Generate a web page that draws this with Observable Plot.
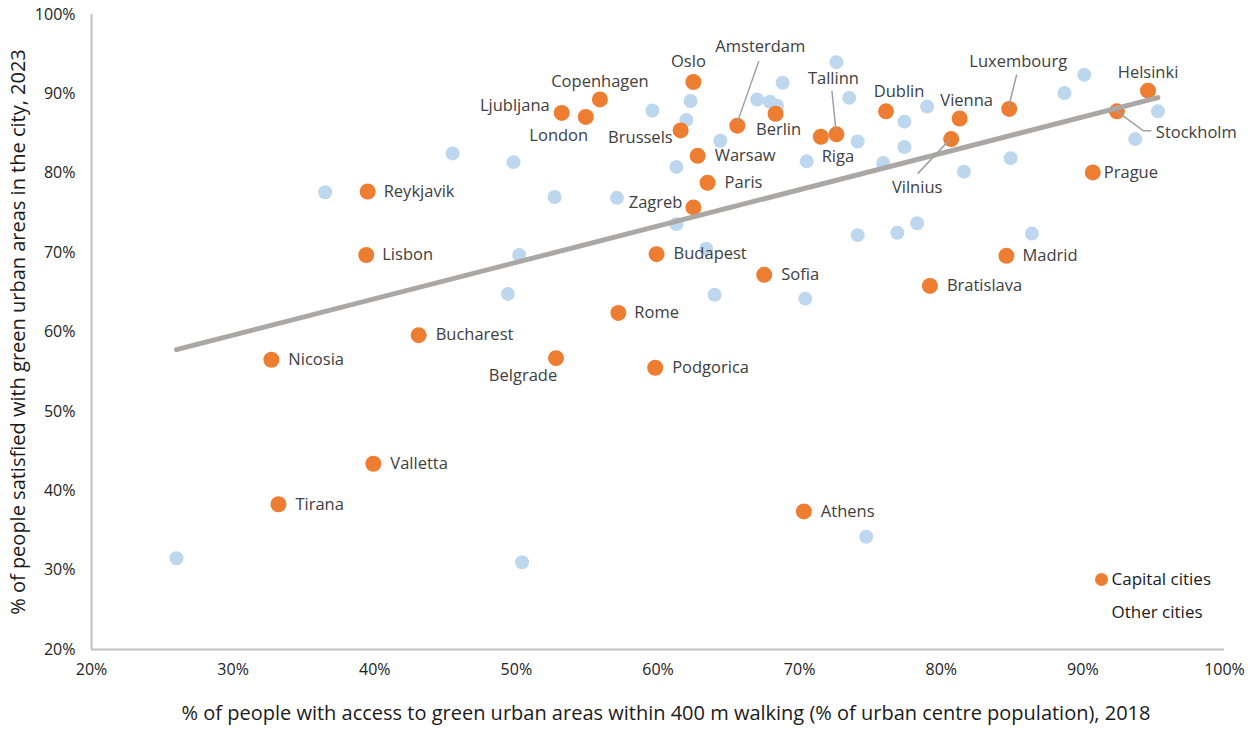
<!DOCTYPE html>
<html>
<head>
<meta charset="utf-8">
<script src="https://cdn.jsdelivr.net/npm/d3@7"></script>
<script src="https://cdn.jsdelivr.net/npm/@observablehq/plot@0.6"></script>
<style>
  html, body { margin: 0; padding: 0; background: #fff; }
  #chart svg { display: block; }
</style>
</head>
<body>
<div id="chart"></div>
<script>
// ---- Data ----
const capitalNames = ["Helsinki","Stockholm","Prague","Luxembourg","Madrid","Vienna","Vilnius","Bratislava","Dublin","Tallinn","Riga","Athens","Berlin","Sofia","Amsterdam","Paris","Warsaw","Oslo","Zagreb","Brussels","Budapest","Podgorica","Rome","Copenhagen","London","Ljubljana","Belgrade","Bucharest","Valletta","Reykjavik","Lisbon","Tirana","Nicosia"];
const capitalAccess = [94.6,92.4,90.7,84.8,84.6,81.3,80.7,79.2,76.1,72.6,71.5,70.3,68.3,67.5,65.6,63.5,62.8,62.5,62.5,61.6,59.9,59.8,57.2,55.9,54.9,53.2,52.8,43.1,39.9,39.5,39.4,33.2,32.7];
const capitalSatisfaction = [90.4,87.8,80.1,88.1,69.6,86.9,84.3,65.8,87.8,84.9,84.6,37.4,87.5,67.2,86.0,78.8,82.2,91.5,75.7,85.4,69.8,55.5,62.4,89.3,87.1,87.6,56.7,59.6,43.4,77.7,69.7,38.3,56.5];

const otherAccess = [72.6,68.8,62.3,67.0,67.9,68.4,73.5,59.6,62.0,64.4,74.1,45.5,49.8,61.3,70.5,52.7,57.1,61.3,79.0,77.4,90.1,88.7,95.3,93.7,77.4,75.9,84.9,81.6,74.1,76.9,78.3,86.4,63.4,64.0,70.4,50.2,49.4,36.5,26.0,50.4,74.7];
const otherSatisfaction = [94.0,91.4,89.1,89.3,89.0,88.5,89.5,87.9,86.7,84.1,84.0,82.5,81.4,80.8,81.5,77.0,76.9,73.6,88.4,86.5,92.4,90.1,87.8,84.3,83.3,81.3,81.9,80.2,72.2,72.5,73.7,72.4,70.5,64.7,64.2,69.7,64.8,77.6,31.5,31.0,34.2];

const xTicks = [20,30,40,50,60,70,80,90,100];
const yTicks = [20,30,40,50,60,70,80,90,100];
const xTitle = "% of people with access to green urban areas within 400 m walking (% of urban centre population), 2018";
const yTitle = "% of people satisfied with green urban areas in the city, 2023";
const legendLabels = ["Capital cities", "Other cities"];

// ---- Label placement (styling, pixel offsets from each dot) ----
const S = (dx) => ({dx, dy: 0, anchor: "start"});
const labelPlacement = {
  Helsinki: {dx: 0, dy: -18, anchor: "middle"},
  Stockholm: {dx: 39, dy: 21, anchor: "start"},
  Prague: S(11),
  Luxembourg: {dx: 9, dy: -47, anchor: "middle"},
  Madrid: S(16),
  Vienna: {dx: 7, dy: -18, anchor: "middle"},
  Vilnius: {dx: -34, dy: 49, anchor: "middle"},
  Bratislava: S(17),
  Dublin: {dx: 13, dy: -20, anchor: "middle"},
  Tallinn: {dx: -3, dy: -56, anchor: "middle"},
  Riga: {dx: 17, dy: 20, anchor: "middle"},
  Athens: S(17),
  Berlin: {dx: 3, dy: 16, anchor: "middle"},
  Sofia: S(17),
  Amsterdam: {dx: 23, dy: -79, anchor: "middle"},
  Paris: S(17),
  Warsaw: S(17),
  Oslo: {dx: -5, dy: -20, anchor: "middle"},
  Zagreb: {dx: -11, dy: -5, anchor: "end"},
  Brussels: {dx: -8, dy: 7, anchor: "end"},
  Budapest: S(17),
  Podgorica: S(17),
  Rome: S(16),
  Copenhagen: {dx: 0, dy: -18, anchor: "middle"},
  London: {dx: -27, dy: 19, anchor: "middle"},
  Ljubljana: {dx: -12, dy: -7, anchor: "end"},
  Belgrade: {dx: -33, dy: 18, anchor: "middle"},
  Bucharest: S(17),
  Valletta: S(17),
  Reykjavik: S(16),
  Lisbon: S(16),
  Tirana: S(17),
  Nicosia: S(17)
};
// leader lines: pixel offsets from the dot
const leaders = {
  Amsterdam: [[1,-4],[22,-64]],
  Tallinn: [[0,-3],[-4,-43]],
  Luxembourg: [[0,-2],[8,-34]],
  Vilnius: [[-1,1],[-33,35]],
  Stockholm: [[0,0],[27,20],[35,20]]
};

// ---- Build tables ----
const capitals = capitalNames.map((name, i) => ({name, x: capitalAccess[i], y: capitalSatisfaction[i]}));
const others = otherAccess.map((x, i) => ({x, y: otherSatisfaction[i]}));
const allPoints = [...others, ...capitals];

const ORANGE = "#ed7d31";
const BLUE = "#bdd7ee";
const TEXT = "#404040";

// Plot's dx/dy are constants per mark, so one text mark per label
const perLabel = capitals.map(d => {
  const p = labelPlacement[d.name];
  return Plot.text([d], {
    x: "x", y: "y", text: "name",
    dx: p.dx, dy: p.dy, textAnchor: p.anchor,
    fill: TEXT, fontSize: 16.5
  });
});

const chart = Plot.plot({
  width: 1254,
  height: 729,
  marginLeft: 91,
  marginRight: 30,
  marginTop: 14,
  marginBottom: 80,
  style: {fontFamily: "'Open Sans', sans-serif", fontSize: "16px", color: "#222", background: "#fff"},
  x: {domain: [20, 100], ticks: xTicks, tickFormat: d => d + "%", tickSize: 0, tickPadding: 14, label: null},
  y: {domain: [20, 100], ticks: yTicks, tickFormat: d => d + "%", tickSize: 0, tickPadding: 16, label: null},
  marks: [
    Plot.ruleX([20], {stroke: "#c0c0c0", strokeWidth: 2}),
    Plot.ruleY([20], {stroke: "#c0c0c0", strokeWidth: 2}),
    Plot.dot(others, {x: "x", y: "y", r: 7, fill: BLUE, stroke: null}),
    Plot.dot(capitals, {x: "x", y: "y", r: 8, fill: ORANGE, stroke: null}),
    Plot.linearRegressionY(allPoints, {x: "x", y: "y", stroke: "#aba7a7", strokeWidth: 5, ci: 0}),
    ...perLabel,
    Plot.text([yTitle], {text: d => d, frameAnchor: "left", textAnchor: "middle", lineAnchor: "middle", rotate: -90, dx: -73, fontSize: 20, fill: "#1a1a1a"}),
    Plot.text([xTitle], {text: d => d, frameAnchor: "bottom", textAnchor: "middle", lineAnchor: "middle", dy: 64, dx: 8, fontSize: 20, fill: "#1a1a1a"}),
    Plot.dot([legendLabels[0]], {frameAnchor: "bottom-right", dx: -123, dy: -70, r: 6.5, fill: ORANGE}),
    Plot.text([legendLabels[0]], {text: d => d, frameAnchor: "bottom-right", dx: -113, dy: -70, textAnchor: "start", lineAnchor: "middle", fontSize: 17, fill: "#1a1a1a"}),
    Plot.text([legendLabels[1]], {text: d => d, frameAnchor: "bottom-right", dx: -113, dy: -37, textAnchor: "start", lineAnchor: "middle", fontSize: 17, fill: "#1a1a1a"})
  ]
});

// Leader lines, positioned through Plot's own scales
const sx = chart.scale("x"), sy = chart.scale("y");
const g = d3.select(chart).append("g").attr("fill", "none").attr("stroke", "#a0a0a0").attr("stroke-width", 1.5);
for (const [name, pts] of Object.entries(leaders)) {
  const c = capitals.find(d => d.name === name);
  const px = sx.apply(c.x), py = sy.apply(c.y);
  g.append("path").attr("d", d3.line()(pts.map(([ox, oy]) => [px + ox, py + oy])));
}

document.getElementById("chart").append(chart);
</script>
</body>
</html>
